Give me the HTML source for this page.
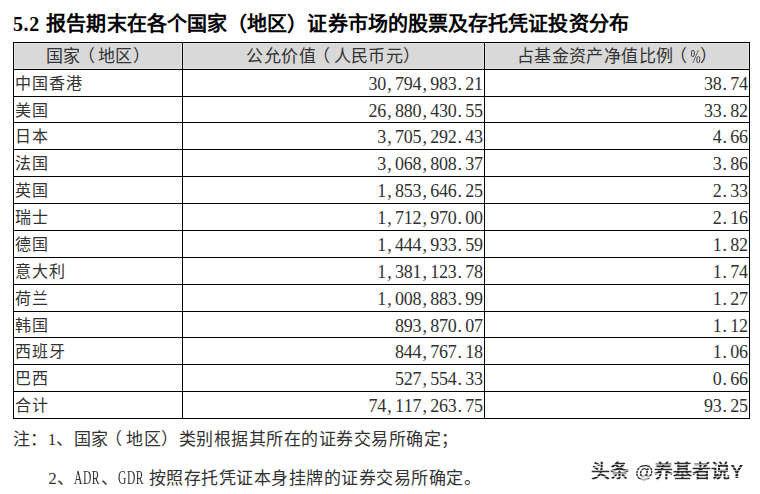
<!DOCTYPE html>
<html lang="zh-CN">
<head>
<meta charset="utf-8">
<style>
html,body{margin:0;padding:0;background:#fff;}
body{width:760px;height:494px;position:relative;overflow:hidden;font-family:"Liberation Serif",serif;color:#1e1e1e;}
.h{position:absolute;left:13px;width:737px;height:1px;background:#000;}
.v{position:absolute;top:42px;width:1px;height:377px;background:#000;}
.hf{position:absolute;background:#d9d9d9;box-sizing:border-box;border:1px solid #e5e5e5;}
.title{position:absolute;left:13px;top:10px;font-size:20px;font-weight:bold;white-space:nowrap;color:#000;line-height:28px;letter-spacing:0.085px;}
.title b{margin-right:6.5px;letter-spacing:0.6px;font-size:20px;}
.ct,.lt,.rt{position:absolute;display:flex;align-items:center;font-size:17px;letter-spacing:1px;white-space:nowrap;line-height:20px;color:#333;}
.rt{font-size:18px;letter-spacing:0;color:#303030;}
.lt{font-size:16px;letter-spacing:1px;}
.ct{letter-spacing:0.4px;}
.ct .m,.lt .m{letter-spacing:0;font-size:18px;}
.ct{justify-content:center;}
.rt{justify-content:flex-end;}
.m{display:inline-flex;justify-content:center;width:9px;}
.m.p{justify-content:flex-start;padding-left:1px;box-sizing:border-box;}
.u{display:inline-block;font-style:normal;transform:scale(.68,1.08);}
.rt .m{width:8.8px;}
.lp{position:relative;left:-4px;}
.ct .lp{left:-3px;}
.ct,.lt,.rt{padding-top:2.4px;box-sizing:border-box;}
.note{position:absolute;white-space:nowrap;line-height:24px;color:#333;}
.n1{font-size:17px;letter-spacing:0.5px;} .n1 .m{width:8.75px;letter-spacing:0;}
.n2{font-size:17px;letter-spacing:0.5px;} .n2 .m{width:8.75px;letter-spacing:0;} .n2 .sp{width:4.5px;}
.wm{position:absolute;left:591px;top:458.5px;font-size:19px;white-space:nowrap;font-family:"Liberation Sans",sans-serif;line-height:26px;letter-spacing:0.2px;font-weight:bold;background:repeating-linear-gradient(to bottom,#2c2c2c 0px,#2c2c2c 2px,#b0b0b0 2px,#b0b0b0 3px);-webkit-background-clip:text;background-clip:text;color:transparent;}
</style>
</head>
<body>
<div class="hf" style="left:14px;top:43px;width:168px;height:26px"></div>
<div class="hf" style="left:183px;top:43px;width:301px;height:26px"></div>
<div class="hf" style="left:485px;top:43px;width:264px;height:26px"></div>
<div class="h" style="top:42px"></div>
<div class="h" style="top:69px"></div>
<div class="h" style="top:96px"></div>
<div class="h" style="top:122px"></div>
<div class="h" style="top:149px"></div>
<div class="h" style="top:176px"></div>
<div class="h" style="top:203px"></div>
<div class="h" style="top:230px"></div>
<div class="h" style="top:257px"></div>
<div class="h" style="top:284px"></div>
<div class="h" style="top:311px"></div>
<div class="h" style="top:337px"></div>
<div class="h" style="top:364px"></div>
<div class="h" style="top:391px"></div>
<div class="h" style="top:418px"></div>
<div class="v" style="left:13px"></div>
<div class="v" style="left:182px"></div>
<div class="v" style="left:484px"></div>
<div class="v" style="left:749px"></div>
<div class="ct" style="left:14px;width:168px;top:43px;height:26px">国家<span class="lp">（</span>地区）</div>
<div class="ct" style="left:183px;width:301px;top:43px;height:26px">公允价值<span class="lp">（</span>人民币元）</div>
<div class="ct" style="left:485px;width:264px;top:43px;height:26px">占基金资产净值比例<span class="lp">（</span><span class="m"><i class="u">%</i></span>）</div>
<div class="lt" style="left:14.5px;width:167.5px;top:70px;height:26px">中国香港</div>
<div class="rt" style="left:183px;width:300px;top:70px;height:26px"><span class="m">3</span><span class="m">0</span><span class="m p">,</span><span class="m">7</span><span class="m">9</span><span class="m">4</span><span class="m p">,</span><span class="m">9</span><span class="m">8</span><span class="m">3</span><span class="m p">.</span><span class="m">2</span><span class="m">1</span></div>
<div class="rt" style="left:485px;width:263px;top:70px;height:26px"><span class="m">3</span><span class="m">8</span><span class="m p">.</span><span class="m">7</span><span class="m">4</span></div>
<div class="lt" style="left:14.5px;width:167.5px;top:97px;height:25px">美国</div>
<div class="rt" style="left:183px;width:300px;top:97px;height:25px"><span class="m">2</span><span class="m">6</span><span class="m p">,</span><span class="m">8</span><span class="m">8</span><span class="m">0</span><span class="m p">,</span><span class="m">4</span><span class="m">3</span><span class="m">0</span><span class="m p">.</span><span class="m">5</span><span class="m">5</span></div>
<div class="rt" style="left:485px;width:263px;top:97px;height:25px"><span class="m">3</span><span class="m">3</span><span class="m p">.</span><span class="m">8</span><span class="m">2</span></div>
<div class="lt" style="left:14.5px;width:167.5px;top:123px;height:26px">日本</div>
<div class="rt" style="left:183px;width:300px;top:123px;height:26px"><span class="m">3</span><span class="m p">,</span><span class="m">7</span><span class="m">0</span><span class="m">5</span><span class="m p">,</span><span class="m">2</span><span class="m">9</span><span class="m">2</span><span class="m p">.</span><span class="m">4</span><span class="m">3</span></div>
<div class="rt" style="left:485px;width:263px;top:123px;height:26px"><span class="m">4</span><span class="m p">.</span><span class="m">6</span><span class="m">6</span></div>
<div class="lt" style="left:14.5px;width:167.5px;top:150px;height:26px">法国</div>
<div class="rt" style="left:183px;width:300px;top:150px;height:26px"><span class="m">3</span><span class="m p">,</span><span class="m">0</span><span class="m">6</span><span class="m">8</span><span class="m p">,</span><span class="m">8</span><span class="m">0</span><span class="m">8</span><span class="m p">.</span><span class="m">3</span><span class="m">7</span></div>
<div class="rt" style="left:485px;width:263px;top:150px;height:26px"><span class="m">3</span><span class="m p">.</span><span class="m">8</span><span class="m">6</span></div>
<div class="lt" style="left:14.5px;width:167.5px;top:177px;height:26px">英国</div>
<div class="rt" style="left:183px;width:300px;top:177px;height:26px"><span class="m">1</span><span class="m p">,</span><span class="m">8</span><span class="m">5</span><span class="m">3</span><span class="m p">,</span><span class="m">6</span><span class="m">4</span><span class="m">6</span><span class="m p">.</span><span class="m">2</span><span class="m">5</span></div>
<div class="rt" style="left:485px;width:263px;top:177px;height:26px"><span class="m">2</span><span class="m p">.</span><span class="m">3</span><span class="m">3</span></div>
<div class="lt" style="left:14.5px;width:167.5px;top:204px;height:26px">瑞士</div>
<div class="rt" style="left:183px;width:300px;top:204px;height:26px"><span class="m">1</span><span class="m p">,</span><span class="m">7</span><span class="m">1</span><span class="m">2</span><span class="m p">,</span><span class="m">9</span><span class="m">7</span><span class="m">0</span><span class="m p">.</span><span class="m">0</span><span class="m">0</span></div>
<div class="rt" style="left:485px;width:263px;top:204px;height:26px"><span class="m">2</span><span class="m p">.</span><span class="m">1</span><span class="m">6</span></div>
<div class="lt" style="left:14.5px;width:167.5px;top:231px;height:26px">德国</div>
<div class="rt" style="left:183px;width:300px;top:231px;height:26px"><span class="m">1</span><span class="m p">,</span><span class="m">4</span><span class="m">4</span><span class="m">4</span><span class="m p">,</span><span class="m">9</span><span class="m">3</span><span class="m">3</span><span class="m p">.</span><span class="m">5</span><span class="m">9</span></div>
<div class="rt" style="left:485px;width:263px;top:231px;height:26px"><span class="m">1</span><span class="m p">.</span><span class="m">8</span><span class="m">2</span></div>
<div class="lt" style="left:14.5px;width:167.5px;top:258px;height:26px">意大利</div>
<div class="rt" style="left:183px;width:300px;top:258px;height:26px"><span class="m">1</span><span class="m p">,</span><span class="m">3</span><span class="m">8</span><span class="m">1</span><span class="m p">,</span><span class="m">1</span><span class="m">2</span><span class="m">3</span><span class="m p">.</span><span class="m">7</span><span class="m">8</span></div>
<div class="rt" style="left:485px;width:263px;top:258px;height:26px"><span class="m">1</span><span class="m p">.</span><span class="m">7</span><span class="m">4</span></div>
<div class="lt" style="left:14.5px;width:167.5px;top:285px;height:26px">荷兰</div>
<div class="rt" style="left:183px;width:300px;top:285px;height:26px"><span class="m">1</span><span class="m p">,</span><span class="m">0</span><span class="m">0</span><span class="m">8</span><span class="m p">,</span><span class="m">8</span><span class="m">8</span><span class="m">3</span><span class="m p">.</span><span class="m">9</span><span class="m">9</span></div>
<div class="rt" style="left:485px;width:263px;top:285px;height:26px"><span class="m">1</span><span class="m p">.</span><span class="m">2</span><span class="m">7</span></div>
<div class="lt" style="left:14.5px;width:167.5px;top:312px;height:25px">韩国</div>
<div class="rt" style="left:183px;width:300px;top:312px;height:25px"><span class="m">8</span><span class="m">9</span><span class="m">3</span><span class="m p">,</span><span class="m">8</span><span class="m">7</span><span class="m">0</span><span class="m p">.</span><span class="m">0</span><span class="m">7</span></div>
<div class="rt" style="left:485px;width:263px;top:312px;height:25px"><span class="m">1</span><span class="m p">.</span><span class="m">1</span><span class="m">2</span></div>
<div class="lt" style="left:14.5px;width:167.5px;top:338px;height:26px">西班牙</div>
<div class="rt" style="left:183px;width:300px;top:338px;height:26px"><span class="m">8</span><span class="m">4</span><span class="m">4</span><span class="m p">,</span><span class="m">7</span><span class="m">6</span><span class="m">7</span><span class="m p">.</span><span class="m">1</span><span class="m">8</span></div>
<div class="rt" style="left:485px;width:263px;top:338px;height:26px"><span class="m">1</span><span class="m p">.</span><span class="m">0</span><span class="m">6</span></div>
<div class="lt" style="left:14.5px;width:167.5px;top:365px;height:26px">巴西</div>
<div class="rt" style="left:183px;width:300px;top:365px;height:26px"><span class="m">5</span><span class="m">2</span><span class="m">7</span><span class="m p">,</span><span class="m">5</span><span class="m">5</span><span class="m">4</span><span class="m p">.</span><span class="m">3</span><span class="m">3</span></div>
<div class="rt" style="left:485px;width:263px;top:365px;height:26px"><span class="m">0</span><span class="m p">.</span><span class="m">6</span><span class="m">6</span></div>
<div class="lt" style="left:14.5px;width:167.5px;top:392px;height:26px">合计</div>
<div class="rt" style="left:183px;width:300px;top:392px;height:26px"><span class="m">7</span><span class="m">4</span><span class="m p">,</span><span class="m">1</span><span class="m">1</span><span class="m">7</span><span class="m p">,</span><span class="m">2</span><span class="m">6</span><span class="m">3</span><span class="m p">.</span><span class="m">7</span><span class="m">5</span></div>
<div class="rt" style="left:485px;width:263px;top:392px;height:26px"><span class="m">9</span><span class="m">3</span><span class="m p">.</span><span class="m">2</span><span class="m">5</span></div>
<div class="title"><b>5.2</b>报告期末在各个国家（地区）证券市场的股票及存托凭证投资分布</div>
<div class="note n1" style="left:12.5px;top:428.3px;">注：<span class="m">1</span>、国家<span class="lp">（</span>地区）类别根据其所在的证券交易所确定；</div>
<div class="note n2" style="left:48px;top:467px;"><span class="m">2</span>、<span class="m"><i class="u">A</i></span><span class="m"><i class="u">D</i></span><span class="m"><i class="u">R</i></span>、<span class="m"><i class="u">G</i></span><span class="m"><i class="u">D</i></span><span class="m"><i class="u">R</i></span><span class="m sp">&nbsp;</span>按照存托凭证本身挂牌的证券交易所确定。</div>
<div class="wm">头条 @养基者说Y</div>
</body>
</html>
